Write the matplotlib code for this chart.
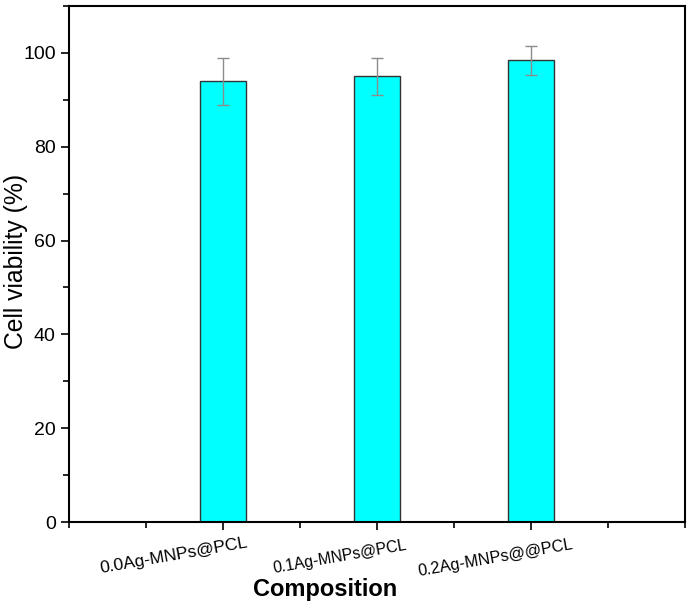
import numpy as np
import matplotlib
matplotlib.use("Agg")
import matplotlib.pyplot as plt
import matplotlib.transforms as mtransforms
from matplotlib.ticker import MultipleLocator

plt.rcParams["font.family"] = ["Liberation Sans", "DejaVu Sans"]

# Data
categories = ["0.0Ag-MNPs@PCL", "0.1Ag-MNPs@PCL", "0.2Ag-MNPs@@PCL"]
viability = [94.0, 95.0, 98.4]
errors = [5.0, 4.0, 3.0]

# label placement (pixels from the tick) and sizes, as in the original
label_dx = [-49, -37, -35]
label_dy = [-34, -35, -36]
label_size = [12.6, 11.3, 11.7]

fig = plt.figure(figsize=(6.88, 6.07), dpi=100)
ax = fig.add_axes([0.1003, 0.140, 0.8953, 0.850])

x = np.arange(1, len(categories) + 1)
ax.bar(x, viability, width=0.3, color="#00ffff", edgecolor="#333333", linewidth=1.0, zorder=2)
ax.errorbar(x, viability, yerr=errors, fmt="none", ecolor="#8c8c8c",
            elinewidth=1.0, capsize=4, capthick=1.0, zorder=3)

ax.set_xlim(0, 4)
ax.set_ylim(0, 110)
ax.set_xticks(x)
ax.set_xticklabels([])
for xi, lab, dx, dy, fs in zip(x, categories, label_dx, label_dy, label_size):
    off = mtransforms.ScaledTranslation(dx / 100, dy / 100, fig.dpi_scale_trans)
    ax.text(xi, 0, lab, transform=ax.get_xaxis_transform() + off,
            ha="center", va="center", rotation=10, fontsize=fs)

ax.xaxis.set_minor_locator(MultipleLocator(0.5))
ax.yaxis.set_major_locator(MultipleLocator(20))
ax.yaxis.set_minor_locator(MultipleLocator(10))
ax.tick_params(axis="y", which="major", direction="out", length=6, width=1.2, labelsize=14)
ax.tick_params(axis="x", which="major", direction="out", length=6, width=1.2)
ax.tick_params(axis="both", which="minor", direction="out", length=4, width=1.2)
for s in ax.spines.values():
    s.set_linewidth(1.5)

ax.set_ylabel("Cell viability (%)", fontsize=17.8)
ax.yaxis.set_label_coords(-0.066, 0.506)
ax.set_xlabel("Composition", fontsize=17, fontweight="bold")
ax.xaxis.set_label_coords(0.416, -0.1085)

fig.savefig("out.png", dpi=100)
